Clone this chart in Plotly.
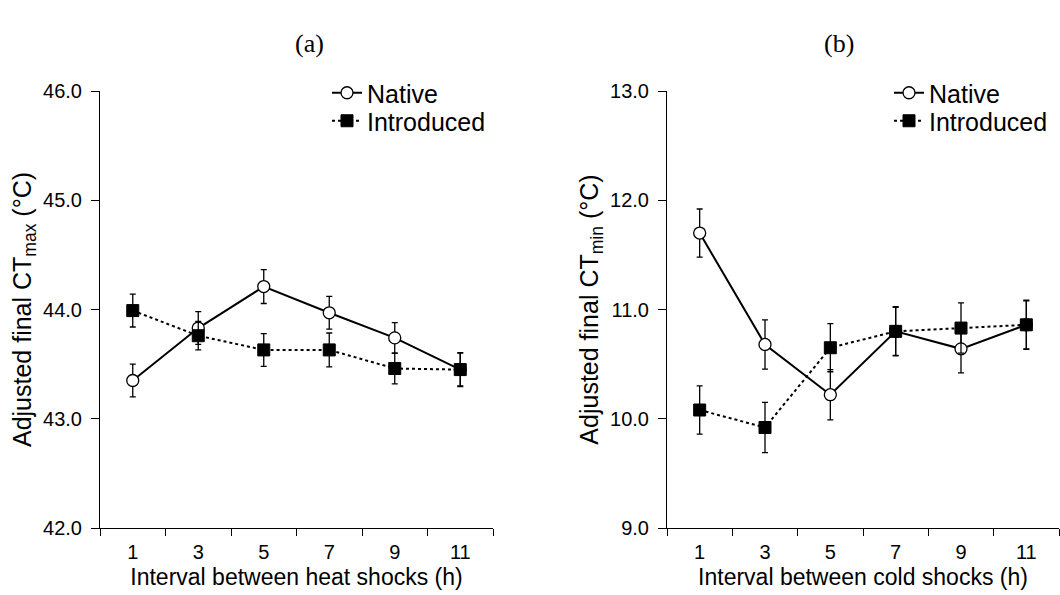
import plotly.graph_objects as go

intervals = [1, 3, 5, 7, 9, 11]

# Panel (a): heat shocks, CTmax
heat_native = [43.35, 43.83, 44.21, 43.97, 43.74, 43.45]
heat_native_err = [0.15, 0.15, 0.155, 0.15, 0.14, 0.155]
heat_intro = [43.99, 43.76, 43.63, 43.63, 43.46, 43.45]
heat_intro_err = [0.15, 0.13, 0.15, 0.155, 0.14, 0.15]

# Panel (b): cold shocks, CTmin
cold_native = [11.70, 10.68, 10.22, 10.80, 10.64, 10.86]
cold_native_err = [0.22, 0.225, 0.23, 0.225, 0.22, 0.225]
cold_intro = [10.08, 9.92, 10.65, 10.80, 10.83, 10.86]
cold_intro_err = [0.22, 0.23, 0.22, 0.22, 0.23, 0.22]

FONT = "Liberation Sans, Arial, sans-serif"
SERIF = "Liberation Serif, Times New Roman, serif"
W, H = 1060, 595

fig = go.Figure()

def add_pair(xa, ya, nat, nat_e, intro, intro_e, leg_nat, leg_intro):
    fig.add_trace(go.Scatter(
        x=intervals, y=nat, name="Native", xaxis=xa, yaxis=ya, legend=leg_nat,
        mode="lines+markers", showlegend=True,
        line=dict(color="black", width=2),
        marker=dict(symbol="circle", size=12, color="white", line=dict(color="black", width=1.3)),
        error_y=dict(type="data", array=nat_e, color="black", thickness=1.3, width=3),
    ))
    fig.add_trace(go.Scatter(
        x=intervals, y=intro, name="Introduced", xaxis=xa, yaxis=ya, legend=leg_intro,
        mode="lines+markers", showlegend=True,
        line=dict(color="black", width=2, dash="dot"),
        marker=dict(symbol="square", size=12, color="black", line=dict(color="black", width=1)),
        error_y=dict(type="data", array=intro_e, color="black", thickness=1.3, width=3),
    ))

add_pair("x", "y", heat_native, heat_native_err, heat_intro, heat_intro_err, "legend", "legend3")
add_pair("x2", "y2", cold_native, cold_native_err, cold_intro, cold_intro_err, "legend2", "legend4")

yd = [(H - 528) / H, (H - 91) / H]

xcommon = dict(
    range=[0, 12], tickvals=intervals, ticktext=[str(v) for v in intervals],
    ticks="", showline=True, linecolor="black", linewidth=1, showgrid=False, zeroline=False,
    minor=dict(ticks="outside", tick0=0, dtick=2, ticklen=7, tickcolor="black", tickwidth=1, showgrid=False),
    tickfont=dict(size=20, color="black", family=FONT), ticklabelstandoff=6,
    title=dict(font=dict(size=23, color="black", family=FONT), standoff=6),
    automargin=False,
)
ycommon = dict(
    showline=True, linecolor="black", linewidth=1, showgrid=False, zeroline=False,
    ticks="outside", ticklen=8, tickcolor="black", tickformat=".1f", dtick=1,
    tickfont=dict(size=20, color="black", family=FONT), ticklabelstandoff=5,
    title=dict(font=dict(size=25, color="black", family=FONT), standoff=4),
    automargin=False,
)

def leg(xpx, ypx):
    return dict(x=xpx / W, y=1 - ypx / H, xanchor="left", yanchor="middle",
                bgcolor="rgba(0,0,0,0)", font=dict(size=25, color="black", family=FONT),
                itemwidth=30, visible=True)

fig.update_layout(
    width=W, height=H,
    margin=dict(l=0, r=0, t=0, b=0),
    paper_bgcolor="white", plot_bgcolor="white",
    font=dict(family=FONT, color="black"),
    showlegend=True,
    xaxis=dict(xcommon, domain=[100 / W, 493 / W], anchor="y",
               title=dict(xcommon["title"], text="Interval between heat shocks (h)")),
    yaxis=dict(ycommon, domain=yd, range=[42, 46], anchor="x",
               title=dict(ycommon["title"], text="Adjusted final CT<sub>max</sub> (°C)")),
    xaxis2=dict(xcommon, domain=[667 / W, 1059 / W], anchor="y2",
                title=dict(xcommon["title"], text="Interval between cold shocks (h)")),
    yaxis2=dict(ycommon, domain=yd, range=[9, 13], anchor="x2",
                title=dict(ycommon["title"], text="Adjusted final CT<sub>min</sub> (°C)")),
    legend=leg(327, 93),
    legend3=leg(327, 121),
    legend2=leg(889, 93),
    legend4=leg(889, 121),
    annotations=[
        dict(text="(a)", x=293 / W, y=1 - 27 / H, xref="paper", yref="paper",
             showarrow=False, font=dict(size=26, family=SERIF, color="black")),
        dict(text="(b)", x=856 / W, y=1 - 27 / H, xref="paper", yref="paper",
             showarrow=False, font=dict(size=26, family=SERIF, color="black")),
    ],
)

fig.write_html("out.html")
